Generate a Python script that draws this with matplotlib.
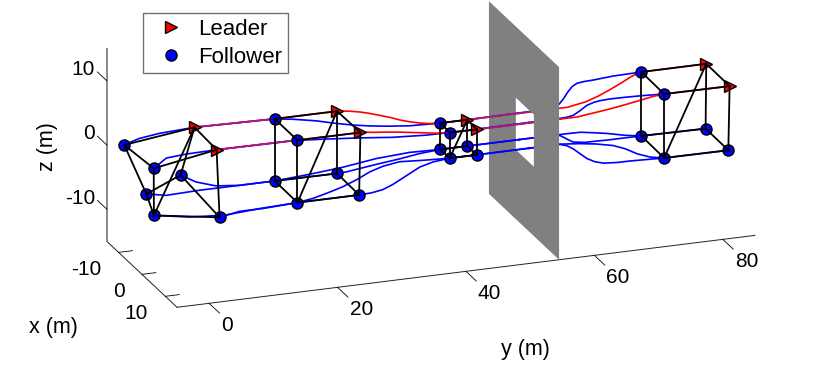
# %%
from matplotlib import pyplot as plt
from matplotlib.lines import Line2D
from mpl_toolkits.mplot3d.art3d import Poly3DCollection
import numpy as np

plt.rcParams['font.family'] = ['Liberation Sans', 'DejaVu Sans']
plt.rcParams['axes.unicode_minus'] = False

# %% trajectories, agent by agent (metres)
l1_x = [-5, -5, -5, -4.95, -4.8, -4.45, -4, -3.5, -3, -2.6, -2.3, -2.1, -2, -2, -2, -2.36, -2.8, -3.35, -3.95, -4.6, -5, -5]
l1_y = [5, 17.5, 27.2, 29, 30.7, 32, 33.5, 35, 36.2, 37.7, 39.1, 40.5, 42.2, 46.4, 62, 65, 67, 69, 71, 73, 74.6, 84.7]
l1_z = [4.95, 4.72, 4.7, 4.5, 4.2, 3.95, 3.6, 3.25, 2.9, 2.55, 2.3, 2.1, 2, 2, 2, 2.36, 2.8, 3.35, 3.95, 4.6, 4.9, 4.92]

l2_x = [5, 5, 5, 4.95, 4.8, 4.5, 4, 3.4, 2.8, 2.3, 2, 2, 2, 2.36, 2.8, 3.35, 3.95, 4.6, 5, 5]
l2_y = [4.8, 17.4, 27.2, 28.2, 29.2, 31.5, 33.7, 36, 38.3, 40.2, 42.2, 46.4, 62, 65, 67, 69, 71, 73, 74.5, 84.7]
l2_z = [4.9, 4.85, 4.8, 4.7, 4.5, 4.15, 3.7, 3.15, 2.6, 2.15, 1.9, 1.85, 1.85, 2.36, 2.8, 3.35, 3.95, 4.6, 4.9, 4.86]

f1_x = [-8, -7, -6, -5, -5, -5, -4.7, -4.3, -3.8, -3.3, -2.8, -2.3, -2, -2, -2.1, -2.3, -2.6, -3, -3.5, -3.95, -4.3, -4.5, -4.6, -4.85, -5]
f1_y = [-4.85, -2.9, -0.1, 5, 17.5, 20.3, 23.9, 26.5, 29.2, 31.5, 34.1, 37.5, 42.2, 46.4, 59.6, 60.4, 61, 61.8, 62.6, 63.4, 64.3, 65.5, 66.9, 70.1, 74.6]
f1_z = [2.4, 3.5, 4.3, 4.95, 4.7, 4.3, 3.7, 3.15, 2.7, 2.45, 2.25, 2.06, 2, 2, 2.05, 2.2, 2.5, 3.1, 3.8, 4.35, 4.66, 4.72, 4.73, 4.87, 4.9]

f2_x = [2, 3, 4.2, 5, 5, 4.9, 4.3, 3.4, 2.4, 2, 2, 2, 2.25, 2.6, 3.1, 3.6, 3.95, 4.2, 4.4, 4.6, 4.8, 5]
f2_y = [-3.9, -2.3, 0.3, 4.8, 17.4, 21.9, 27.3, 32.8, 38.4, 42.2, 46.4, 59.4, 60.3, 61.2, 62.1, 63, 63.9, 64.8, 66.3, 68.3, 71, 74.5]
f2_z = [2.05, 3.8, 4.5, 4.9, 4.8, 4.4, 3.7, 2.8, 2.1, 1.9, 1.9, 1.96, 2.1, 2.4, 3.2, 4.1, 4.55, 4.8, 4.95, 5, 5, 4.9]

f3_x = [-5, -5, -5, -5, -5, -5, -4.6, -3.6, -2.6, -2, -2, -2, -3.2, -3.9, -4.5, -4.9, -5]
f3_y = [-2.5, 0.57, 5.8, 10.9, 17.5, 22.9, 27.9, 32.8, 37.6, 42.2, 46.4, 61, 64.4, 66.7, 69, 72, 74.6]
f3_z = [-4.5, -5.1, -4.95, -4.96, -4.96, -4.6, -4, -2.9, -2.2, -2.1, -2.1, -2.1, -2.6, -3.2, -3.8, -4.6, -5.06]

f4_x = [-6, -5.8, -5.4, -5.1, -5, -5, -4.9, -4.2, -3.1, -2.4, -2, -2, -2, -2.15, -2.4, -3, -3.8, -4.5, -4.75, -4.9, -5, -5]
f4_y = [3.2, 5.5, 8.5, 12, 17.5, 27.2, 28.6, 32.5, 36.3, 39.1, 42.2, 46.4, 60.5, 61.2, 61.9, 63.2, 65.3, 67.5, 69.3, 71.2, 74.6, 84.6]
f4_z = [-2.6, -3.9, -4.75, -5, -4.96, -5, -4.9, -4.1, -3.2, -2.5, -2.1, -2.1, -2.1, -2.5, -3, -3.9, -4.5, -4.8, -4.95, -5, -5.06, -5.16]

f5_x = [4, 4.6, 5, 5, 5, 5, 4.9, 4.7, 4.2, 3.5, 2.8, 2.2, 2.05, 2, 2, 2, 2.8, 3.35, 3.8, 4.25, 4.7, 4.9, 5]
f5_y = [-4.6, 0.7, 6, 11.5, 17.4, 19.8, 22, 24.5, 27, 29.2, 31.5, 34.3, 38.2, 42.2, 46.4, 59.4, 62.2, 64.5, 67, 68.8, 70.4, 72.4, 74.5]
f5_z = [-4.5, -5.2, -5.45, -5.1, -4.9, -4.55, -4.05, -3.45, -2.75, -2.1, -1.75, -1.6, -1.9, -2.1, -2.1, -2.05, -2.05, -2.2, -2.6, -3.2, -4, -4.7, -5.06]

f6_x = [6, 5.5, 5.1, 5, 5, 4.9, 4.7, 4.3, 3.8, 3.4, 3, 2.4, 2, 2, 2, 2.25, 2.6, 3.1, 3.6, 4, 4.3, 4.6, 4.8, 5, 5]
f6_y = [4.9, 8.2, 12.2, 17.4, 27, 29, 30.8, 32.5, 34.2, 35.7, 37.2, 39.5, 42.2, 46.4, 59.4, 60.4, 61.2, 62.1, 63, 64.1, 65.3, 67.2, 69.3, 74.5, 84.5]
f6_z = [-5.3, -4.95, -5.1, -4.9, -4.9, -4.85, -4.65, -4.2, -3.6, -3.05, -2.5, -2.2, -2.1, -2.1, -2.1, -2.35, -2.8, -3.5, -4.2, -4.7, -4.96, -5, -4.95, -5.06, -5.1]

# %% formation at the four snapshots, order L1 L2 F1 F2 F3 F4 F5 F6
snap_x = [[-5, 5, -8, 2, -5, -6, 4, 6],
          [-5, 5, -5, 5, -5, -5, 5, 5],
          [-2, 2, -2, 2, -2, -2, 2, 2],
          [-5, 5, -5, 5, -5, -5, 5, 5]]
snap_y = [[5, 4.8, -4.85, -3.9, -2.5, 3.2, -4.6, 4.9],
          [27.2, 27.2, 17.5, 17.4, 17.5, 27.2, 17.4, 27],
          [46.4, 46.4, 42.2, 42.2, 42.2, 46.4, 42.2, 46.4],
          [84.7, 84.7, 74.6, 74.5, 74.6, 84.6, 74.5, 84.5]]
snap_z = [[4.95, 4.9, 2.4, 2.05, -4.5, -2.6, -4.5, -5.3],
          [4.7, 4.8, 4.7, 4.8, -4.96, -5, -4.9, -4.9],
          [2, 1.85, 2, 1.9, -2.1, -2.1, -2.1, -2.1],
          [4.92, 4.86, 4.9, 4.9, -5.06, -5.16, -5.06, -5.1]]
graph_edges = [(0, 1), (2, 0), (3, 1), (2, 3), (2, 4), (3, 6), (0, 5),
               (1, 7), (4, 5), (5, 7), (6, 7), (4, 6), (6, 0)]

# wall and its window
wall_y = 54.5
wall_xlim = [-15, 15]
wall_zlim = [-15, 15]
hole_xlim = [-3.5, 4.2]
hole_zlim = [-4.2, 3.9]

x_ticks = [-10, 0, 10]
y_ticks = [0, 20, 40, 60, 80]
z_ticks = [-10, 0, 10]

# %%
W = 660  # px side of the square 3d axes, gives the scale of the reference
FIG_W, FIG_H = 830, 365
LEFT_PX, TOP_PX = 92, -179

fig = plt.figure(figsize=(FIG_W/100, FIG_H/100), dpi=100)
ax = fig.add_axes([LEFT_PX/FIG_W, (FIG_H-TOP_PX-W)/FIG_H, W/FIG_W, W/FIG_H],
                  projection='3d', computed_zorder=False)
ax.set_proj_type('ortho')
ax.view_init(elev=20, azim=-20)
ax.set_xlim(-15, 15, view_margin=0)
ax.set_ylim(-5, 85, view_margin=0)
ax.set_zlim(-15, 15, view_margin=0)
ax.set_box_aspect((30, 90, 30))
ax.patch.set_alpha(0)
ax.grid(False)
ax.set_xticks(x_ticks)
ax.set_yticks(y_ticks)
ax.set_zticks(z_ticks)
ax.zaxis.set_ticks_position('lower')

for axis, in_f, out_f, pad in ((ax.xaxis, 0, 0.3, -0.5), (ax.yaxis, 1.85, 0, 50), (ax.zaxis, 0, 1.7, 34)):
    axis.set_pane_color((1, 1, 1, 0))
    axis.pane.set_edgecolor((1, 1, 1, 0))
    axis.line.set_color('#222222')
    axis.line.set_linewidth(0.7)
    axis._axinfo['tick']['inward_factor'] = in_f
    axis._axinfo['tick']['outward_factor'] = out_f
    axis._axinfo['tick']['linewidth'] = {True: 0.6, False: 0.6}
    axis._axinfo['tick']['color'] = '#222222'
    axis.set_tick_params(labelsize=15, pad=pad)
ax.zaxis.line.set_color('#808080')
ax.zaxis.line.set_linewidth(1.3)

# matlab puts z ticks and label offsets along x, mplot3d has no option for it
# _axmask gets multiplied into the offset so fractions work as well
ax.zaxis._get_tickdir = lambda position: 0
ax.zaxis._axmask = lambda: np.array([1.0, 0.0, 0.0])
ax.yaxis._axmask = lambda: np.array([0.73, 0.0, 0.24])
for lab in ax.get_xticklabels():
    lab.set_ha('right')
for lab in ax.get_yticklabels():
    lab.set_ha('left')
    lab.set_va('center')
for lab in ax.get_zticklabels():
    lab.set_ha('right')
    lab.set_va('center')


def split_at_wall(xs, ys, zs):
    """Cut one path where it crosses the wall plane."""
    xs, ys, zs = np.array(xs), np.array(ys), np.array(zs)
    xc, zc = np.interp(wall_y, ys, xs), np.interp(wall_y, ys, zs)
    front = ys < wall_y
    back = ~front
    return (np.r_[xs[front], xc], np.r_[ys[front], wall_y], np.r_[zs[front], zc],
            np.r_[xc, xs[back]], np.r_[wall_y, ys[back]], np.r_[zc, zs[back]])


def plot_path(xs, ys, zs, color):
    fx, fy, fz, bx, by, bz = split_at_wall(xs, ys, zs)
    ax.plot(bx, by, bz, color=color, lw=1.2, zorder=1)
    ax.plot(fx, fy, fz, color=color, lw=1.2, zorder=3)


for xs, ys, zs in ((f1_x, f1_y, f1_z), (f2_x, f2_y, f2_z), (f3_x, f3_y, f3_z), (f4_x, f4_y, f4_z),
                   (f5_x, f5_y, f5_z), (f6_x, f6_y, f6_z)):
    plot_path(xs, ys, zs, 'blue')
for xs, ys, zs in ((l1_x, l1_y, l1_z), (l2_x, l2_y, l2_z)):
    plot_path(xs, ys, zs, 'red')

# leader and follower on one line, comes out purple
for xs, ys, zs in ((l1_x, l1_y, l1_z), (l2_x, l2_y, l2_z)):
    xs, ys, zs = np.array(xs), np.array(ys), np.array(zs)
    m = ys <= 17.5
    on_line = ys == 46.4
    ax.plot(xs[m], ys[m], zs[m], color='#a01e8c', lw=1.2, zorder=3.1)
    ax.plot([xs[on_line][0]]*2, [46.4, wall_y], [zs[on_line][0]]*2, color='#a01e8c', lw=1.2, zorder=3.1)
    ax.plot([xs[on_line][0]]*2, [wall_y, 59.5], [zs[on_line][0]]*2, color='#a01e8c', lw=1.2, zorder=1.1)

# %% wall, one outline with a slit into the window
wx0, wx1 = wall_xlim
wz0, wz1 = wall_zlim
hx0, hx1 = hole_xlim
hz0, hz1 = hole_zlim
outline = [(wx0, wz0), (wx1, wz0), (wx1, wz1), (wx0, wz1), (wx0, hz0),
           (hx0, hz0), (hx0, hz1), (hx1, hz1), (hx1, hz0), (hx0, hz0), (wx0, hz0)]
wall = Poly3DCollection([[(px, wall_y, pz) for px, pz in outline]],
                        facecolor='#808080', edgecolor='none', linewidth=0)
ax.add_collection3d(wall)
wall.set_zorder(2)

# %% formations
for sx, sy, sz in zip(snap_x, snap_y, snap_z):
    ax.plot(sx[:2], sy[:2], sz[:2], '>', ms=8, mfc='red', mec='black', mew=1.0, ls='none', zorder=4)
    ax.plot(sx[2:], sy[2:], sz[2:], 'o', ms=8, mfc='blue', mec='black', mew=1.0, ls='none', zorder=4)
    for i, j in graph_edges:
        ax.plot([sx[i], sx[j]], [sy[i], sy[j]], [sz[i], sz[j]], color='black', lw=1.3, zorder=5)

# %% labels sit where the reference has them, figure coords
fig.text(525/FIG_W, 1-350/FIG_H, 'y (m)', fontsize=15.5, ha='center', va='center')
fig.text(53/FIG_W, 1-328/FIG_H, 'x (m)', fontsize=15.5, ha='center', va='center')
fig.text(47/FIG_W, 1-147/FIG_H, 'z (m)', fontsize=15.5, ha='center', va='center', rotation=90)

handles = [Line2D([], [], ls='none', marker='>', ms=8, mfc='red', mec='black', mew=1.0),
           Line2D([], [], ls='none', marker='o', ms=8, mfc='blue', mec='black', mew=1.0)]
fig.legend(handles, ['Leader', 'Follower'], loc='upper left', fontsize=16,
           bbox_to_anchor=(143/FIG_W, 1-13/FIG_H), borderaxespad=0, fancybox=False, framealpha=1,
           edgecolor='#707070', handletextpad=0.25, labelspacing=0.33, borderpad=0.25)

fig.savefig('out.png', dpi=100)
